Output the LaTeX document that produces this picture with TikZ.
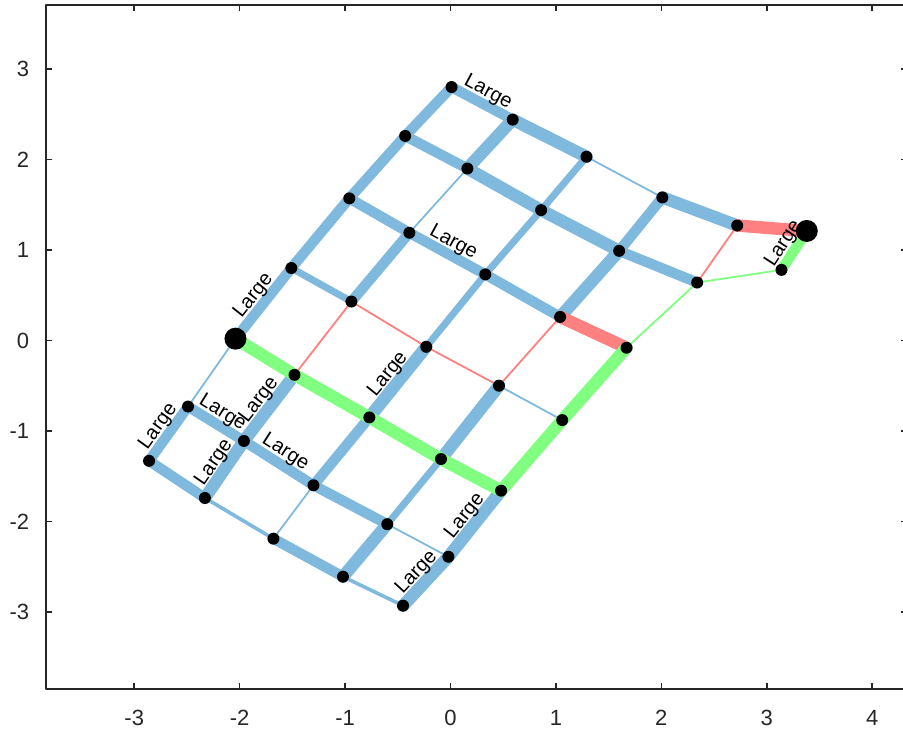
\documentclass[tikz,border=0pt]{standalone}
\usepackage{fontspec}
\setmainfont{Liberation Sans}
\definecolor{edgeblue}{RGB}{128,185,222}
\definecolor{edgered}{RGB}{255,128,128}
\definecolor{edgegreen}{RGB}{128,255,128}
\definecolor{axisgray}{RGB}{38,38,38}
\tikzset{
  wa/.style={line width=0.9pt},
  wb/.style={line width=1.8pt},
  wc/.style={line width=3.5pt},
  wd/.style={line width=5.2pt},
  we/.style={line width=6.2pt},
  lbl/.style={sloped, above, inner sep=1.5pt, font=\fontsize{10}{11}\selectfont},
  ticklbl/.style={text=axisgray, font=\fontsize{11}{12}\selectfont}
}
\begin{document}
\begin{tikzpicture}[x=52.7pt,y=45.25pt, line join=round, line cap=round]
  \def\xmin{-3.838} \def\xmax{4.33}
  \def\ymin{-3.851} \def\ymax{3.707}
  \useasboundingbox (-4.274,-4.326) rectangle (4.293,3.762);
  \clip (-4.274,-4.326) rectangle (4.293,3.762);
  % axes box and ticks
  \draw[axisgray, line width=0.8pt, line cap=butt] (\xmin,\ymin) rectangle (\xmax,\ymax);
  \foreach \t in {-3,...,4} {
    \draw[axisgray, line width=0.8pt, line cap=butt] (\t,\ymin) -- ++(0,3pt) (\t,\ymax) -- ++(0,-3pt);
    \node[ticklbl] (x\t) at (\t,-4.171) {\t};
  }
  \foreach \t in {-3,...,3} {
    \draw[axisgray, line width=0.8pt, line cap=butt] (\xmin,\t) -- ++(3pt,0) (\xmax,\t) -- ++(-3pt,0);
    \node[ticklbl, anchor=east] (y\t) at (-3.93,\t) {\t};
  }
  % grid points
  \coordinate (A1) at (0.01,2.80);   \coordinate (A2) at (0.59,2.44);
  \coordinate (A3) at (1.29,2.03);   \coordinate (A4) at (2.01,1.58);
  \coordinate (A5) at (2.72,1.27);   \coordinate (X1) at (3.38,1.21);
  \coordinate (B1) at (-0.43,2.26);  \coordinate (B2) at (0.16,1.90);
  \coordinate (B3) at (0.86,1.44);   \coordinate (B4) at (1.60,0.99);
  \coordinate (B5) at (2.34,0.64);   \coordinate (X2) at (3.14,0.78);
  \coordinate (C1) at (-0.96,1.57);  \coordinate (C2) at (-0.39,1.19);
  \coordinate (C3) at (0.33,0.73);   \coordinate (C4) at (1.04,0.26);
  \coordinate (C5) at (1.67,-0.08);
  \coordinate (D1) at (-1.51,0.80);  \coordinate (D2) at (-0.94,0.43);
  \coordinate (D3) at (-0.23,-0.07); \coordinate (D4) at (0.46,-0.50);
  \coordinate (D5) at (1.06,-0.88);
  \coordinate (E1) at (-2.04,0.02);  \coordinate (E2) at (-1.48,-0.38);
  \coordinate (E3) at (-0.77,-0.85); \coordinate (E4) at (-0.09,-1.31);
  \coordinate (E5) at (0.48,-1.66);
  \coordinate (F1) at (-2.49,-0.73); \coordinate (F2) at (-1.96,-1.11);
  \coordinate (F3) at (-1.30,-1.60); \coordinate (F4) at (-0.60,-2.03);
  \coordinate (F5) at (-0.02,-2.39);
  \coordinate (G1) at (-2.86,-1.33); \coordinate (G2) at (-2.33,-1.74);
  \coordinate (G3) at (-1.68,-2.19); \coordinate (G4) at (-1.02,-2.61);
  \coordinate (G5) at (-0.45,-2.93);
  % blue edges
  \draw[edgeblue, we] (A2)--(A3) (A4)--(A5) (B2)--(B3) (B3)--(B4) (C4)--(B4) (B2)--(A2)
    (G2)--(F2) (F2)--(E2) (E3)--(D3) (E4)--(D4) (G4)--(F4) (G5)--(F5) (F5)--(E5);
  \draw[edgeblue, wd] (A1)--(A2) (B1)--(B2) (B4)--(B5) (C1)--(C2) (C2)--(C3) (C3)--(C4)
    (F1)--(F2) (F2)--(F3) (F3)--(F4) (G1)--(G2) (G3)--(G4) (G1)--(F1) (E1)--(D1)
    (D1)--(C1) (C1)--(B1) (B1)--(A1) (D2)--(C2) (F3)--(E3) (B4)--(A4);
  \draw[edgeblue, wc] (D1)--(D2) (D3)--(C3) (C3)--(B3) (B3)--(A3) (F4)--(E4);
  \draw[edgeblue, wb] (G2)--(G3) (G4)--(G5);
  \draw[edgeblue, wa] (A3)--(A4) (D4)--(D5) (F4)--(F5) (F1)--(E1) (C2)--(B2) (G3)--(F3);
  % red path
  \draw[edgered, we] (A5)--(X1) (C4)--(C5);
  \draw[edgered, wa] (B5)--(A5) (D4)--(C4) (D3)--(D4) (D2)--(D3) (E2)--(D2);
  % green path
  \draw[edgegreen, we] (E1)--(E2) (E2)--(E3) (E3)--(E4) (E4)--(E5) (E5)--(D5) (D5)--(C5);
  \draw[edgegreen, wd] (X2)--(X1);
  \draw[edgegreen, wa] (C5)--(B5) (B5)--(X2);
  % nodes
  \foreach \p in {A1,A2,A3,A4,A5,B1,B2,B3,B4,B5,X2,C1,C2,C3,C4,C5,D1,D2,D3,D4,D5,
    E2,E3,E4,E5,F1,F2,F3,F4,F5,G1,G2,G3,G4,G5}
    \fill (\p) circle (3pt);
  \fill (E1) circle (5.5pt) (X1) circle (5.5pt);
  % edge labels
  \foreach \u/\v in {A1/A2,C2/C3,E1/D1,X2/X1,E3/D3,G1/F1,F1/F2,F2/E2,G2/F2,F2/F3,G5/F5,F5/E5}
    \path (\u) -- node[lbl] {Large} (\v);
\end{tikzpicture}
\end{document}
